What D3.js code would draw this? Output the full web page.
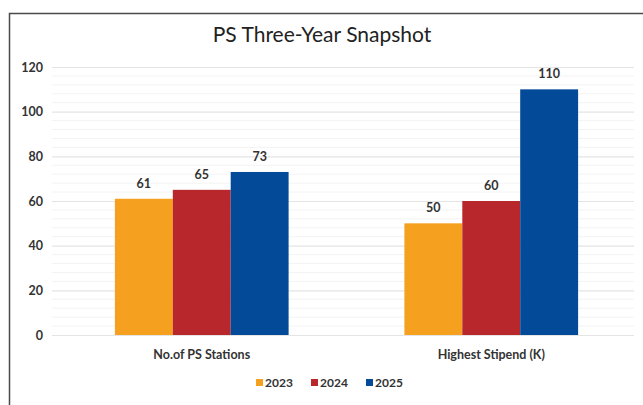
<!DOCTYPE html>
<html>
<head>
<meta charset="utf-8">
<script src="https://cdn.jsdelivr.net/npm/d3@7"></script>
<style>
  body { margin: 0; background: #fff; }
  svg { display: block; font-family: Lato, "Open Sans", sans-serif; }
</style>
</head>
<body>
<div id="vis"></div>
<script>
const FRAME_WIDTH = 643;
const FRAME_HEIGHT = 405;

const categories = ["No.of PS Stations", "Highest Stipend (K)"];
const years = ["2023", "2024", "2025"];
const values2023 = [61, 50];
const values2024 = [65, 60];
const values2025 = [73, 110];
const yTicks = [0, 20, 40, 60, 80, 100, 120];
const colors = ["#F5A01E", "#B8272C", "#034B98"];

const series = [values2023, values2024, values2025];

const FRAME = d3.select("#vis")
  .append("svg")
    .attr("width", FRAME_WIDTH)
    .attr("height", FRAME_HEIGHT);

// outer chart border (cropped on right and bottom)
FRAME.append("path")
  .attr("d", "M9.5,405 L9.5,13.5 L643,13.5")
  .attr("fill", "none")
  .attr("stroke", "#4a4a4a")
  .attr("stroke-width", 1.5);

FRAME.append("text")
  .attr("x", 322)
  .attr("y", 42)
  .attr("text-anchor", "middle")
  .attr("font-size", "21px")
  .attr("fill", "#222")
  .text("PS Three-Year Snapshot");

const Y_SCALE = d3.scaleLinear()
  .domain([0, 120])
  .range([335, 67]);

const X_SCALE = d3.scaleBand()
  .domain(categories)
  .range([57, 636])
  .paddingInner(0.4)
  .paddingOuter(0.2);

const X_INNER = d3.scaleBand()
  .domain(years)
  .range([0, X_SCALE.bandwidth()]);

// minor gridlines
FRAME.append("g")
  .selectAll("line")
  .data(d3.range(0, 121, 4).filter(d => d % 20 !== 0))
  .enter()
  .append("line")
    .attr("x1", 52)
    .attr("x2", 634)
    .attr("y1", d => Y_SCALE(d))
    .attr("y2", d => Y_SCALE(d))
    .attr("stroke", "#f3f3f3")
    .attr("stroke-width", 1);

// major gridlines + tick labels
const yAxis = FRAME.append("g")
  .attr("transform", "translate(52,0)")
  .call(d3.axisLeft(Y_SCALE).tickValues(yTicks).tickSize(-582).tickPadding(9));
yAxis.select(".domain").remove();
yAxis.selectAll(".tick line").attr("stroke", "#e4e4e4").attr("stroke-width", 1.2);
yAxis.selectAll(".tick text")
  .attr("font-size", "12.5px")
  .attr("font-weight", "bold")
  .attr("fill", "#333")
  .attr("font-family", "Lato, sans-serif");

// bars
const groups = FRAME.selectAll(".grp")
  .data(categories)
  .enter()
  .append("g")
    .attr("transform", d => "translate(" + X_SCALE(d) + ",0)");

groups.selectAll("rect")
  .data((c, i) => years.map((y, j) => ({ year: y, j: j, v: series[j][i] })))
  .enter()
  .append("rect")
    .attr("x", d => X_INNER(d.year))
    .attr("y", d => Y_SCALE(d.v))
    .attr("width", X_INNER.bandwidth())
    .attr("height", d => Y_SCALE(0) - Y_SCALE(d.v))
    .attr("fill", d => colors[d.j]);

groups.selectAll(".val")
  .data((c, i) => years.map((y, j) => ({ year: y, j: j, v: series[j][i] })))
  .enter()
  .append("text")
    .attr("x", d => X_INNER(d.year) + X_INNER.bandwidth() / 2)
    .attr("y", d => Y_SCALE(d.v) - 11)
    .attr("text-anchor", "middle")
    .attr("font-size", "12.5px")
    .attr("font-weight", "bold")
    .attr("fill", "#333")
    .text(d => d.v);

// category labels
FRAME.selectAll(".cat")
  .data(categories)
  .enter()
  .append("text")
    .attr("x", d => X_SCALE(d) + X_SCALE.bandwidth() / 2)
    .attr("y", 359)
    .attr("text-anchor", "middle")
    .attr("font-size", "12.5px")
    .attr("font-weight", "bold")
    .attr("fill", "#333")
    .text(d => d);

// legend
const legend = FRAME.selectAll(".leg")
  .data(years)
  .enter()
  .append("g")
    .attr("transform", (d, i) => "translate(" + (256 + i * 55) + ",383)");
legend.append("rect")
  .attr("x", 0).attr("y", -4)
  .attr("width", 7).attr("height", 7)
  .attr("fill", (d, i) => colors[i]);
legend.append("text")
  .attr("x", 9).attr("y", 4)
  .attr("font-size", "12px")
  .attr("font-weight", "bold")
  .attr("fill", "#333")
  .text(d => d);
</script>
</body>
</html>
